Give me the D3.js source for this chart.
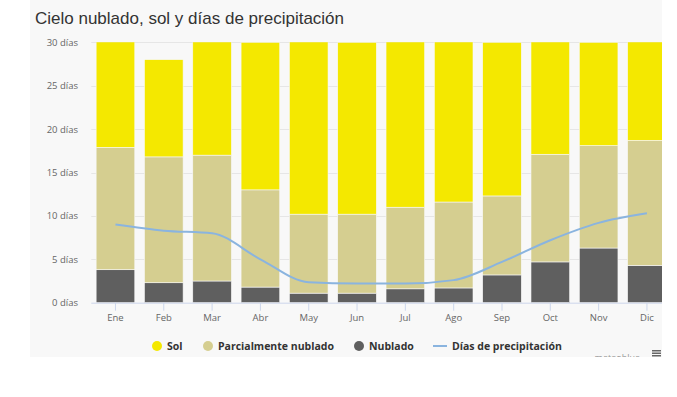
<!DOCTYPE html>
<html>
<head>
<meta charset="utf-8">
<script src="https://cdn.jsdelivr.net/npm/d3@7"></script>
<style>
  body { margin: 0; background: #fff; }
  svg { display: block; }
</style>
</head>
<body>
<div id="chart"></div>
<script>
var width = 677, height = 397;

// data
var months = ["Ene", "Feb", "Mar", "Abr", "May", "Jun", "Jul", "Ago", "Sep", "Oct", "Nov", "Dic"];
var nublado = [3.8, 2.3, 2.5, 1.8, 1.1, 1.1, 1.6, 1.7, 3.2, 4.7, 6.3, 4.3];
var parcial = [14.1, 14.5, 14.5, 11.2, 9.1, 9.1, 9.4, 9.9, 9.1, 12.4, 11.8, 14.4];
var sol = [13.1, 11.2, 14.0, 17.0, 20.8, 19.8, 20.0, 19.4, 17.7, 13.9, 11.9, 12.3];
var precipitacion = [9.0, 8.3, 8.0, 5.0, 2.35, 2.2, 2.2, 2.6, 4.7, 7.2, 9.2, 10.3];
var yTicks = [0, 5, 10, 15, 20, 25, 30];

var colors = { sol: "#f4e800", parcial: "#d5ce90", nublado: "#5f5f5f", line: "#8ab4df" };

var margin = { left: 91.3, right: 671.1, top: 42.3, bottom: 302.7 };
var plotClipRight = 662;

var svg = d3.select("#chart")
  .append("svg")
  .attr("width", width)
  .attr("height", height);

svg.append("defs").append("clipPath")
  .attr("id", "area-clip")
  .append("rect")
  .attr("x", 0).attr("y", 0)
  .attr("width", plotClipRight).attr("height", 357);

svg.append("defs").append("clipPath")
  .attr("id", "plot-clip")
  .append("rect")
  .attr("x", margin.left).attr("y", margin.top)
  .attr("width", plotClipRight - margin.left).attr("height", margin.bottom - margin.top + 1);

var root = svg.append("g").attr("clip-path", "url(#area-clip)");

root.append("rect")
  .attr("x", 30).attr("y", 0)
  .attr("width", plotClipRight - 30).attr("height", 357)
  .attr("fill", "#f8f8f8");

var x = d3.scaleBand()
  .domain(months)
  .range([margin.left, margin.right])
  .paddingInner(0.2)
  .paddingOuter(0.1);

var y = d3.scaleLinear()
  .domain([0, 30])
  .range([margin.bottom, margin.top]);

// title
root.append("text")
  .attr("x", 35)
  .attr("y", 24)
  .attr("font-family", "Liberation Sans, Arial, sans-serif")
  .attr("font-size", 17)
  .attr("fill", "#333")
  .text("Cielo nublado, sol y días de precipitación");

// grid
root.append("g")
  .selectAll("line")
  .data(yTicks.slice(1))
  .enter().append("line")
  .attr("x1", margin.left).attr("x2", plotClipRight)
  .attr("y1", function(d) { return Math.round(y(d)) + 0.5; })
  .attr("y2", function(d) { return Math.round(y(d)) + 0.5; })
  .attr("stroke", "#e6e6e6");

// y labels
var yAxis = d3.axisLeft(y)
  .tickValues(yTicks)
  .tickSize(0)
  .tickPadding(0)
  .tickFormat(function(d) { return d + " días"; });

var yg = root.append("g")
  .attr("transform", "translate(78,0)")
  .call(yAxis);
yg.select(".domain").remove();
yg.selectAll("text")
  .attr("font-family", "Open Sans, sans-serif")
  .attr("font-size", 9.5)
  .attr("fill", "#666");

// stacked columns
var rows = months.map(function(m, i) {
  return { month: m, nublado: nublado[i], parcial: parcial[i], sol: sol[i] };
});
var stack = d3.stack().keys(["nublado", "parcial", "sol"]);
var series = stack(rows);

var bars = root.append("g").attr("clip-path", "url(#plot-clip)");
bars.selectAll("g")
  .data(series)
  .enter().append("g")
  .attr("fill", function(d) { return colors[d.key]; })
  .selectAll("rect")
  .data(function(d) { return d; })
  .enter().append("rect")
  .attr("x", function(d) { return x(d.data.month); })
  .attr("width", x.bandwidth())
  .attr("y", function(d) { return y(d[1]); })
  .attr("height", function(d) { return y(d[0]) - y(d[1]); })
  .attr("stroke", "#f8f8f8")
  .attr("stroke-width", 0.6);

// x axis
var xAxis = d3.axisBottom(x).tickSize(8).tickPadding(4);
var xg = root.append("g")
  .attr("transform", "translate(0," + margin.bottom + ")")
  .call(xAxis);
xg.select(".domain")
  .attr("d", "M" + margin.left + ",0.5H" + margin.right)
  .attr("stroke", "#ccd6eb");
xg.selectAll(".tick line").attr("stroke", "#ccd6eb");
xg.selectAll("text")
  .attr("font-family", "Open Sans, sans-serif")
  .attr("font-size", 9.5)
  .attr("fill", "#666");

// precipitation line
var line = d3.line()
  .x(function(d, i) { return x(months[i]) + x.bandwidth() / 2; })
  .y(function(d) { return y(d); })
  .curve(d3.curveMonotoneX);

root.append("path")
  .datum(precipitacion)
  .attr("d", line)
  .attr("fill", "none")
  .attr("stroke", colors.line)
  .attr("stroke-width", 2);

// legend
var legendItems = [
  { name: "Sol", color: colors.sol, type: "dot", x: 157 },
  { name: "Parcialmente nublado", color: colors.parcial, type: "dot", x: 208 },
  { name: "Nublado", color: colors.nublado, type: "dot", x: 359 },
  { name: "Días de precipitación", color: colors.line, type: "line", x: 440 }
];
var legend = root.append("g").attr("transform", "translate(0,346)");
var li = legend.selectAll("g")
  .data(legendItems)
  .enter().append("g")
  .attr("transform", function(d) { return "translate(" + d.x + ",0)"; });
li.filter(function(d) { return d.type === "dot"; })
  .append("circle")
  .attr("r", 5)
  .attr("fill", function(d) { return d.color; });
li.filter(function(d) { return d.type === "line"; })
  .append("line")
  .attr("x1", -7).attr("x2", 7)
  .attr("stroke", function(d) { return d.color; })
  .attr("stroke-width", 2);
li.append("text")
  .attr("x", function(d) { return d.type === "line" ? 12 : 10; })
  .attr("dy", "0.35em")
  .attr("font-family", "Open Sans, sans-serif")
  .attr("font-weight", "bold")
  .attr("font-size", 10.5)
  .attr("fill", "#333")
  .text(function(d) { return d.name; });

// credit, cut at the bottom edge of the panel
root.append("text")
  .attr("x", 640)
  .attr("y", 361)
  .attr("text-anchor", "end")
  .attr("font-family", "Open Sans, sans-serif")
  .attr("font-size", 9)
  .attr("fill", "#999")
  .text("meteoblue");

var menu = root.append("g").attr("transform", "translate(652,350)");
menu.selectAll("rect")
  .data([0, 2.5, 5])
  .enter().append("rect")
  .attr("x", 0).attr("y", function(d) { return d; })
  .attr("width", 9).attr("height", 1.5)
  .attr("fill", "#666");
</script>
</body>
</html>
